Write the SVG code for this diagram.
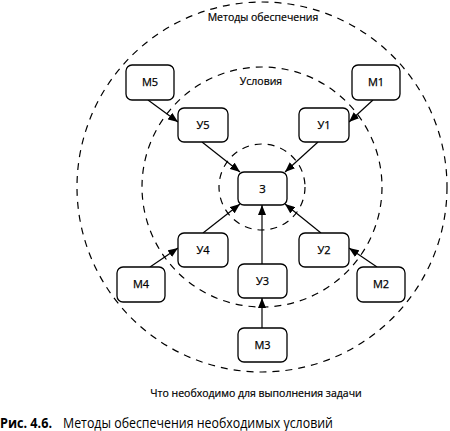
<svg xmlns="http://www.w3.org/2000/svg" width="450" height="431" viewBox="0 0 450 431">
<style>
.ring{fill:none;stroke:#000;stroke-width:1.2;stroke-dasharray:7 6}
.box{fill:#fff;stroke:#000;stroke-width:1.3}
.lbl{font-family:"Open Sans","Noto Sans","Liberation Sans",sans-serif;font-size:11px;text-anchor:middle;fill:#000;stroke:#000;stroke-width:0.25}
.ttl{font-family:"Open Sans","Noto Sans","Liberation Sans",sans-serif;font-size:10.5px;text-anchor:middle;fill:#000;stroke:#000;stroke-width:0.2}
.edge{stroke:#000;stroke-width:1.2;fill:none;marker-end:url(#ah)}
.cap{font-family:"Open Sans","Noto Sans","Liberation Sans",sans-serif;font-size:14px;fill:#000}
</style>
<defs>
<marker id="ah" markerUnits="userSpaceOnUse" markerWidth="10" markerHeight="8" refX="10" refY="4" orient="auto">
<path d="M0,0 L10,4 L0,8 z" fill="#000"/>
</marker>
</defs>
<rect width="450" height="431" fill="#fff"/>
<g id="rings">
<circle class="ring" cx="262" cy="187" r="185"/>
<circle class="ring" cx="262" cy="187" r="120"/>
<circle class="ring" cx="262" cy="187" r="43"/>
<text class="ttl" x="263" y="21">Методы обеспечения</text>
<text class="ttl" x="261" y="85">Условия</text>
<text class="ttl" x="256" y="397">Что необходимо для выполнения задачи</text>
</g>
<g id="connectors">
<line class="edge" x1="148" y1="100" x2="178" y2="122"/>
<line class="edge" x1="373" y1="100" x2="349" y2="122"/>
<line class="edge" x1="202" y1="142" x2="240" y2="172"/>
<line class="edge" x1="318" y1="142" x2="285" y2="172"/>
<line class="edge" x1="203" y1="233" x2="240" y2="204"/>
<line class="edge" x1="321" y1="233" x2="285" y2="204"/>
<line class="edge" x1="262" y1="264" x2="262" y2="205"/>
<line class="edge" x1="150" y1="267" x2="178" y2="248"/>
<line class="edge" x1="377" y1="267" x2="349" y2="248"/>
<line class="edge" x1="262" y1="328" x2="262" y2="298"/>
</g>
<g id="node-M5"><rect class="box" x="126" y="65" width="48" height="35" rx="6"/><text class="lbl" x="150" y="86">М5</text></g>
<g id="node-M1"><rect class="box" x="352" y="65" width="48" height="35" rx="6"/><text class="lbl" x="376" y="86">М1</text></g>
<g id="node-U5"><rect class="box" x="178" y="108" width="50" height="34" rx="6"/><text class="lbl" x="203" y="129">У5</text></g>
<g id="node-U1"><rect class="box" x="299" y="108" width="50" height="34" rx="6"/><text class="lbl" x="324" y="129">У1</text></g>
<g id="node-Z"><rect class="box" x="238" y="172" width="49" height="33" rx="6"/><text class="lbl" x="262.5" y="192.5">З</text></g>
<g id="node-U4"><rect class="box" x="178" y="233" width="50" height="34" rx="6"/><text class="lbl" x="203" y="254">У4</text></g>
<g id="node-U2"><rect class="box" x="299" y="233" width="50" height="34" rx="6"/><text class="lbl" x="324" y="254">У2</text></g>
<g id="node-U3"><rect class="box" x="238" y="264" width="49" height="34" rx="6"/><text class="lbl" x="262.5" y="285">У3</text></g>
<g id="node-M4"><rect class="box" x="117" y="267" width="48" height="35" rx="6"/><text class="lbl" x="141" y="288">М4</text></g>
<g id="node-M2"><rect class="box" x="357" y="267" width="48" height="35" rx="6"/><text class="lbl" x="381" y="288">М2</text></g>
<g id="node-M3"><rect class="box" x="238" y="328" width="49" height="34" rx="6"/><text class="lbl" x="262.5" y="349">М3</text></g>
<text class="cap" y="428"><tspan x="0" font-weight="bold" textLength="52" lengthAdjust="spacingAndGlyphs">Рис. 4.6.</tspan><tspan x="63" textLength="270" lengthAdjust="spacingAndGlyphs">Методы обеспечения необходимых условий</tspan></text>
</svg>
